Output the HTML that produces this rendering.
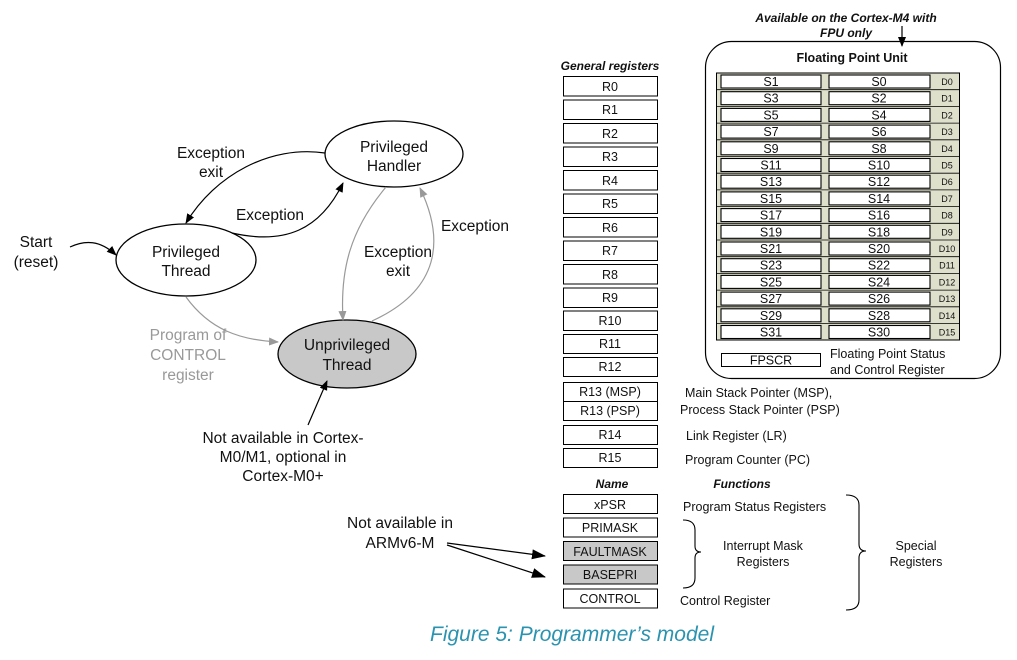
<!DOCTYPE html>
<html><head><meta charset="utf-8"><style>
html,body{margin:0;padding:0;background:#fff;}
svg{display:block;}
text{font-family:"Liberation Sans",sans-serif;fill:#111;}
</style></head><body>
<svg width="1017" height="660" viewBox="0 0 1017 660" xmlns="http://www.w3.org/2000/svg">
<defs>
<marker id="ab" markerWidth="10" markerHeight="8" refX="9" refY="4" orient="auto" markerUnits="userSpaceOnUse"><path d="M0,0 L10,4 L0,8 z" fill="#000"/></marker>
<marker id="ag" markerWidth="10" markerHeight="8" refX="9" refY="4" orient="auto" markerUnits="userSpaceOnUse"><path d="M0,0 L10,4 L0,8 z" fill="#999"/></marker>
<marker id="al" markerWidth="14" markerHeight="10" refX="13" refY="5" orient="auto" markerUnits="userSpaceOnUse"><path d="M0,0 L14,5 L0,10 z" fill="#000"/></marker>
</defs>

<!-- State diagram -->
<ellipse cx="394" cy="154" rx="69" ry="33" fill="#fff" stroke="#000" stroke-width="1.3"/>
<ellipse cx="186" cy="260" rx="70" ry="36" fill="#fff" stroke="#000" stroke-width="1.3"/>
<ellipse cx="347" cy="354" rx="69" ry="34" fill="#c8c8c8" stroke="#000" stroke-width="1.3"/>
<g font-size="15.5" text-anchor="middle">
<text x="394" y="152">Privileged</text><text x="394" y="171">Handler</text>
<text x="186" y="257">Privileged</text><text x="186" y="276">Thread</text>
<text x="347" y="350">Unprivileged</text><text x="347" y="370">Thread</text>
<text x="211" y="158">Exception</text><text x="211" y="177">exit</text>
<text x="270" y="220">Exception</text>
<text x="475" y="231">Exception</text>
<text x="398" y="257">Exception</text><text x="398" y="276">exit</text>
<text x="36" y="247">Start</text><text x="36" y="267">(reset)</text>
<g fill="#999"><text x="188" y="340" style="fill:#999">Program of</text><text x="188" y="360" style="fill:#999">CONTROL</text><text x="188" y="380" style="fill:#999">register</text></g>
<text x="283" y="443">Not available in Cortex-</text>
<text x="283" y="462">M0/M1, optional in</text>
<text x="283" y="481">Cortex-M0+</text>
<text x="400" y="528">Not available in</text>
<text x="400" y="548">ARMv6-M</text>
</g>
<!-- arrows -->
<path d="M325,153 C270,145 215,175 186,223" fill="none" stroke="#000" stroke-width="1.2" marker-end="url(#ab)"/>
<path d="M232,233 C285,245 320,230 343,183" fill="none" stroke="#000" stroke-width="1.2" marker-end="url(#ab)"/>
<path d="M70,247 C85,240 100,240 116,255" fill="none" stroke="#000" stroke-width="1.2" marker-end="url(#ab)"/>
<path d="M386,187 C350,230 340,270 343,320" fill="none" stroke="#999" stroke-width="1.2" marker-end="url(#ag)"/>
<path d="M372,321 C440,290 445,240 420,188" fill="none" stroke="#999" stroke-width="1.2" marker-end="url(#ag)"/>
<path d="M186,297 C210,330 240,340 278,342" fill="none" stroke="#999" stroke-width="1.2" marker-end="url(#ag)"/>
<path d="M308,425 L327,381" fill="none" stroke="#000" stroke-width="1.2" marker-end="url(#ab)"/>
<path d="M447,543 L545,556" fill="none" stroke="#000" stroke-width="1.2" marker-end="url(#al)"/>
<path d="M447,545 L545,577" fill="none" stroke="#000" stroke-width="1.2" marker-end="url(#al)"/>

<!-- General registers -->
<text x="610" y="70" font-size="12" font-weight="bold" font-style="italic" text-anchor="middle">General registers</text>
<g fill="#fff" stroke="#000" stroke-width="1">
<rect x="563.5" y="76.5" width="94" height="19.5"/>
<rect x="563.5" y="100" width="94" height="19.5"/>
<rect x="563.5" y="123.5" width="94" height="19.5"/>
<rect x="563.5" y="147" width="94" height="19.5"/>
<rect x="563.5" y="170.5" width="94" height="19.5"/>
<rect x="563.5" y="194" width="94" height="19.5"/>
<rect x="563.5" y="217.5" width="94" height="19.5"/>
<rect x="563.5" y="241" width="94" height="19.5"/>
<rect x="563.5" y="264.5" width="94" height="19.5"/>
<rect x="563.5" y="288" width="94" height="19.5"/>
<rect x="563.5" y="311" width="94" height="19.5"/>
<rect x="563.5" y="334.5" width="94" height="19"/>
<rect x="563.5" y="357.5" width="94" height="19"/>
<rect x="563.5" y="382.5" width="94" height="38"/>
<line x1="563.5" y1="401.5" x2="657.5" y2="401.5"/>
<rect x="563.5" y="425.5" width="94" height="19"/>
<rect x="563.5" y="448.5" width="94" height="19"/>
<rect x="563.5" y="494.5" width="94" height="19"/>
<rect x="563.5" y="518" width="94" height="19"/>
<rect x="563.5" y="541.5" width="94" height="19" fill="#c8c8c8"/>
<rect x="563.5" y="565" width="94" height="19" fill="#c8c8c8"/>
<rect x="563.5" y="589" width="94" height="19"/>
</g>
<g font-size="12.5" text-anchor="middle">
<text x="610" y="91">R0</text><text x="610" y="114">R1</text><text x="610" y="138">R2</text><text x="610" y="161">R3</text>
<text x="610" y="185">R4</text><text x="610" y="208">R5</text><text x="610" y="232">R6</text><text x="610" y="255">R7</text>
<text x="610" y="279">R8</text><text x="610" y="302">R9</text><text x="610" y="325">R10</text><text x="610" y="348">R11</text>
<text x="610" y="371">R12</text><text x="610" y="396">R13 (MSP)</text><text x="610" y="415">R13 (PSP)</text>
<text x="610" y="439">R14</text><text x="610" y="462">R15</text>
<text x="610" y="509">xPSR</text><text x="610" y="532">PRIMASK</text><text x="610" y="556">FAULTMASK</text>
<text x="610" y="579">BASEPRI</text><text x="610" y="603">CONTROL</text>
</g>
<g font-size="12.5">
<text x="685" y="397">Main Stack Pointer (MSP),</text>
<text x="680" y="414">Process Stack Pointer (PSP)</text>
<text x="686" y="440">Link Register (LR)</text>
<text x="685" y="464">Program Counter (PC)</text>
<text x="683" y="511">Program Status Registers</text>
<text x="680" y="605">Control Register</text>
<text x="763" y="550" text-anchor="middle">Interrupt Mask</text>
<text x="763" y="566" text-anchor="middle">Registers</text>
<text x="916" y="550" text-anchor="middle">Special</text>
<text x="916" y="566" text-anchor="middle">Registers</text>
</g>
<text x="612" y="488" font-size="12" font-weight="bold" font-style="italic" text-anchor="middle">Name</text>
<text x="742" y="488" font-size="12" font-weight="bold" font-style="italic" text-anchor="middle">Functions</text>
<!-- braces -->
<path d="M683,520 Q695,520 695,530 L695,546 Q695,552 701,552 Q695,552 695,558 L695,578 Q695,588 683,588" fill="none" stroke="#000" stroke-width="1.1"/>
<path d="M846,495 Q859,495 859,505 L859,544 Q859,551 866,551 Q859,551 859,558 L859,600 Q859,610 846,610" fill="none" stroke="#000" stroke-width="1.1"/>

<!-- FPU -->
<text x="846" y="22" font-size="12" font-weight="bold" font-style="italic" text-anchor="middle">Available on the Cortex-M4 with</text>
<text x="846" y="37" font-size="12" font-weight="bold" font-style="italic" text-anchor="middle">FPU only</text>
<line x1="902" y1="26" x2="902" y2="46" stroke="#000" stroke-width="1.2" marker-end="url(#ab)"/>
<rect x="705.5" y="41.5" width="295" height="337" rx="26" fill="none" stroke="#000" stroke-width="1.2"/>
<text x="852" y="62" font-size="12.5" font-weight="bold" text-anchor="middle">Floating Point Unit</text>
<rect x="716.5" y="73" width="243" height="267" fill="#dfe0cc" stroke="#000" stroke-width="1"/>
<g fill="#fff" stroke="#000" stroke-width="1.1">
<rect x="721" y="75" width="100" height="13"/><rect x="829" y="75" width="101" height="13"/>
<rect x="721" y="91.7" width="100" height="13"/><rect x="829" y="91.7" width="101" height="13"/>
<rect x="721" y="108.4" width="100" height="13"/><rect x="829" y="108.4" width="101" height="13"/>
<rect x="721" y="125.1" width="100" height="13"/><rect x="829" y="125.1" width="101" height="13"/>
<rect x="721" y="141.8" width="100" height="13"/><rect x="829" y="141.8" width="101" height="13"/>
<rect x="721" y="158.5" width="100" height="13"/><rect x="829" y="158.5" width="101" height="13"/>
<rect x="721" y="175.2" width="100" height="13"/><rect x="829" y="175.2" width="101" height="13"/>
<rect x="721" y="191.9" width="100" height="13"/><rect x="829" y="191.9" width="101" height="13"/>
<rect x="721" y="208.6" width="100" height="13"/><rect x="829" y="208.6" width="101" height="13"/>
<rect x="721" y="225.3" width="100" height="13"/><rect x="829" y="225.3" width="101" height="13"/>
<rect x="721" y="242" width="100" height="13"/><rect x="829" y="242" width="101" height="13"/>
<rect x="721" y="258.7" width="100" height="13"/><rect x="829" y="258.7" width="101" height="13"/>
<rect x="721" y="275.4" width="100" height="13"/><rect x="829" y="275.4" width="101" height="13"/>
<rect x="721" y="292.1" width="100" height="13"/><rect x="829" y="292.1" width="101" height="13"/>
<rect x="721" y="308.8" width="100" height="13"/><rect x="829" y="308.8" width="101" height="13"/>
<rect x="721" y="325.5" width="100" height="13"/><rect x="829" y="325.5" width="101" height="13"/>
</g>
<g stroke="#000" stroke-width="0.8">
<line x1="717" y1="89.7" x2="959" y2="89.7"/><line x1="717" y1="106.4" x2="959" y2="106.4"/><line x1="717" y1="123.1" x2="959" y2="123.1"/>
<line x1="717" y1="139.8" x2="959" y2="139.8"/><line x1="717" y1="156.5" x2="959" y2="156.5"/><line x1="717" y1="173.2" x2="959" y2="173.2"/>
<line x1="717" y1="189.9" x2="959" y2="189.9"/><line x1="717" y1="206.6" x2="959" y2="206.6"/><line x1="717" y1="223.3" x2="959" y2="223.3"/>
<line x1="717" y1="240" x2="959" y2="240"/><line x1="717" y1="256.7" x2="959" y2="256.7"/><line x1="717" y1="273.4" x2="959" y2="273.4"/>
<line x1="717" y1="290.1" x2="959" y2="290.1"/><line x1="717" y1="306.8" x2="959" y2="306.8"/><line x1="717" y1="323.5" x2="959" y2="323.5"/>
</g>
<g font-size="12.5" text-anchor="middle">
<text x="771" y="86">S1</text><text x="879" y="86">S0</text>
<text x="771" y="102.7">S3</text><text x="879" y="102.7">S2</text>
<text x="771" y="119.4">S5</text><text x="879" y="119.4">S4</text>
<text x="771" y="136.1">S7</text><text x="879" y="136.1">S6</text>
<text x="771" y="152.8">S9</text><text x="879" y="152.8">S8</text>
<text x="771" y="169.5">S11</text><text x="879" y="169.5">S10</text>
<text x="771" y="186.2">S13</text><text x="879" y="186.2">S12</text>
<text x="771" y="202.9">S15</text><text x="879" y="202.9">S14</text>
<text x="771" y="219.6">S17</text><text x="879" y="219.6">S16</text>
<text x="771" y="236.3">S19</text><text x="879" y="236.3">S18</text>
<text x="771" y="253">S21</text><text x="879" y="253">S20</text>
<text x="771" y="269.7">S23</text><text x="879" y="269.7">S22</text>
<text x="771" y="286.4">S25</text><text x="879" y="286.4">S24</text>
<text x="771" y="303.1">S27</text><text x="879" y="303.1">S26</text>
<text x="771" y="319.8">S29</text><text x="879" y="319.8">S28</text>
<text x="771" y="336.5">S31</text><text x="879" y="336.5">S30</text>
</g>
<g font-size="9" text-anchor="middle">
<text x="947" y="85">D0</text><text x="947" y="101.7">D1</text><text x="947" y="118.4">D2</text><text x="947" y="135.1">D3</text>
<text x="947" y="151.8">D4</text><text x="947" y="168.5">D5</text><text x="947" y="185.2">D6</text><text x="947" y="201.9">D7</text>
<text x="947" y="218.6">D8</text><text x="947" y="235.3">D9</text><text x="947" y="252">D10</text><text x="947" y="268.7">D11</text>
<text x="947" y="285.4">D12</text><text x="947" y="302.1">D13</text><text x="947" y="318.8">D14</text><text x="947" y="335.5">D15</text>
</g>
<rect x="721.5" y="353.5" width="99" height="13" fill="#fff" stroke="#000" stroke-width="1"/>
<text x="771" y="364.5" font-size="12.5" text-anchor="middle">FPSCR</text>
<text x="830" y="358" font-size="12.5">Floating Point Status</text>
<text x="830" y="374" font-size="12.5">and Control Register</text>

<!-- caption -->
<text x="572" y="641" font-size="21" font-style="italic" text-anchor="middle" style="fill:#2a93b0">Figure 5: Programmer’s model</text>
</svg>
</body></html>
